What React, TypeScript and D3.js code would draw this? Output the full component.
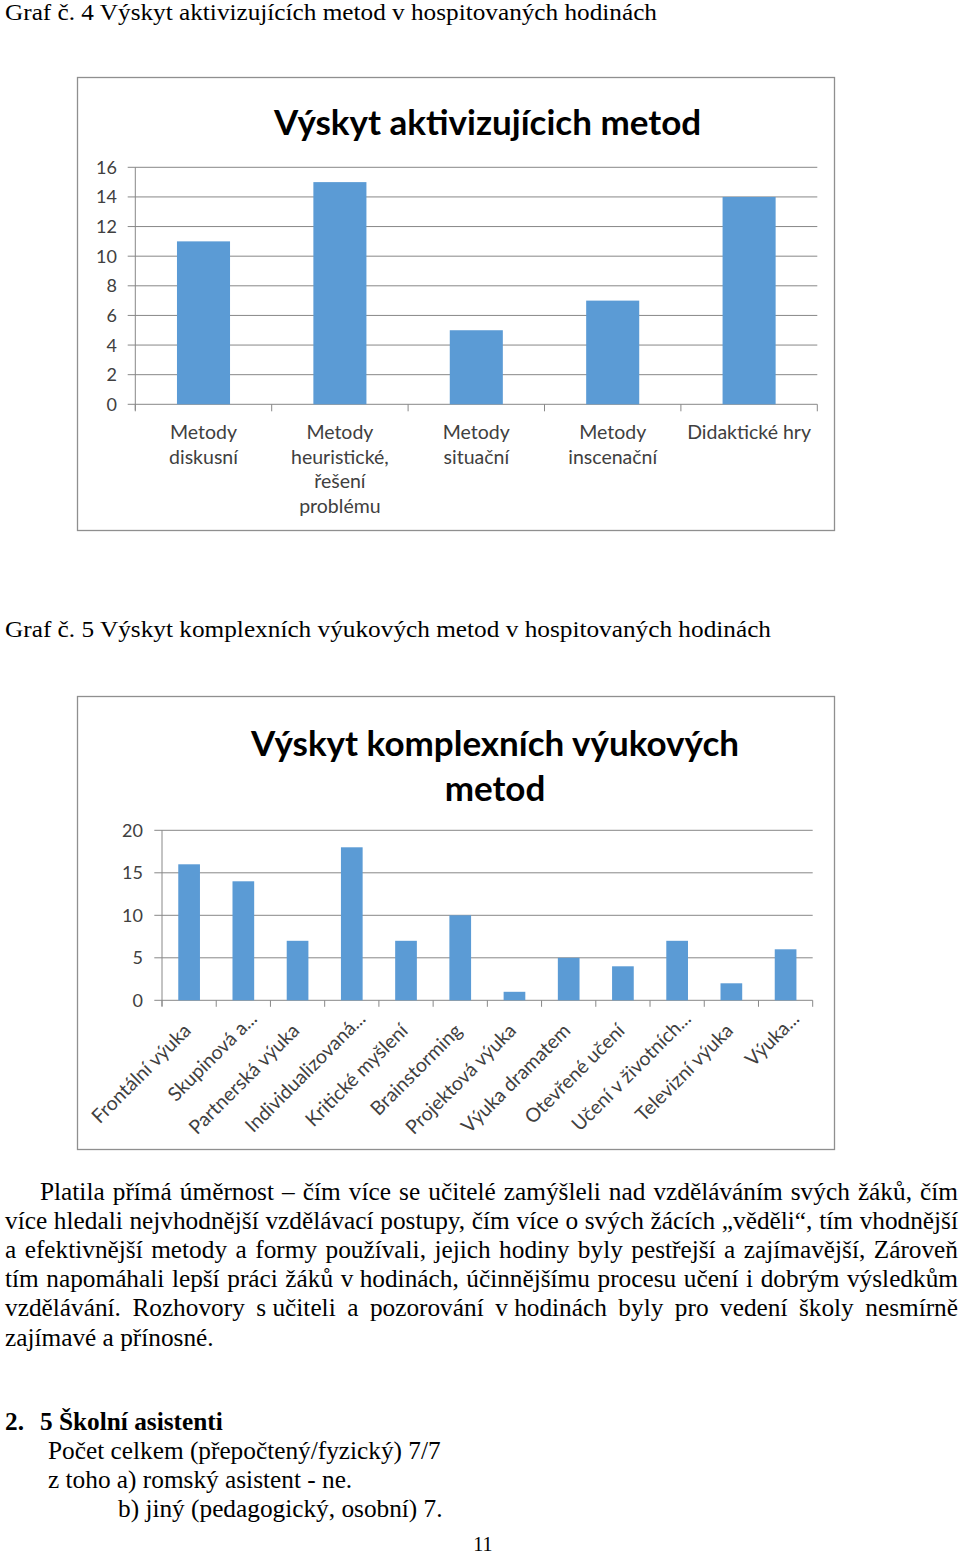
import React from "react";
import * as d3 from "d3";

// ---------- DATA ----------
const chart1Title = "Výskyt aktivizujícich metod";
const chart1Categories: string[][] = [
  ["Metody", "diskusní"],
  ["Metody", "heuristické,", "řešení", "problému"],
  ["Metody", "situační"],
  ["Metody", "inscenační"],
  ["Didaktické hry"],
];
const chart1Values = [11, 15, 5, 7, 14];
const chart1Ticks = [0, 2, 4, 6, 8, 10, 12, 14, 16];

const chart2TitleLines = ["Výskyt komplexních výukových", "metod"];
const chart2Categories = [
  "Frontální výuka",
  "Skupinová a...",
  "Partnerská výuka",
  "Individualizovaná...",
  "Kritické myšlení",
  "Brainstorming",
  "Projektová výuka",
  "Výuka dramatem",
  "Otevřené učení",
  "Učení v životních...",
  "Televizní výuka",
  "Výuka...",
];
const chart2Values = [16, 14, 7, 18, 7, 10, 1, 5, 4, 7, 2, 6];
const chart2Ticks = [0, 5, 10, 15, 20];

const caption1 = "Graf č. 4 Výskyt aktivizujících metod v hospitovaných hodinách";
const caption2 = "Graf č. 5 Výskyt komplexních výukových metod v hospitovaných hodinách";

const paragraphLines = [
  "Platila přímá úměrnost – čím více se učitelé zamýšleli nad vzděláváním svých žáků, čím",
  "více hledali nejvhodnější vzdělávací postupy, čím více o svých žácích „věděli“, tím vhodnější",
  "a efektivnější metody a formy používali, jejich hodiny byly pestřejší a zajímavější, Zároveň",
  "tím napomáhali lepší práci žáků v\u00a0hodinách, účinnějšímu procesu učení i dobrým výsledkům",
  "vzdělávání. Rozhovory s\u00a0učiteli a pozorování v\u00a0hodinách byly pro vedení školy nesmírně",
  "zajímavé a přínosné.",
];

const sectionNumber = "2.";
const sectionTitle = "5 Školní asistenti";
const sectionLines = [
  "Počet celkem (přepočtený/fyzický) 7/7",
  "z toho a) romský asistent - ne.",
  "b) jiný (pedagogický, osobní) 7.",
];
const pageNumber = "11";

// ---------- STYLE ----------
const BAR = "#5b9bd5";
const GRID = "#888888";
const AXIS_TEXT = "#404040";
const SANS = "Lato, 'Open Sans', sans-serif";
const SERIF = "'Liberation Serif', 'Times New Roman', serif";
const SERIF_SIZE = 25.3;

let _ctx: CanvasRenderingContext2D | null = null;
function measure(text: string, font: string): number {
  if (!_ctx) _ctx = document.createElement("canvas").getContext("2d");
  if (!_ctx) return text.length * 10;
  _ctx.font = font;
  return _ctx.measureText(text).width;
}

function JustifiedLine({ text, x0, x1, y, size, justify }: any) {
  const font = `${size}px 'Liberation Serif'`;
  const words = text.split(" ");
  const widths = words.map((w: string) => measure(w, font));
  const total = widths.reduce((a: number, b: number) => a + b, 0);
  const spaceW = measure(" ", font);
  let gap = justify && words.length > 1 ? (x1 - x0 - total) / (words.length - 1) : spaceW;
  let scale = 1;
  if (gap < 3) {
    gap = 3;
    scale = (x1 - x0 - gap * (words.length - 1)) / total;
  }
  let cx = x0;
  return (
    <g>
      {words.map((w: string, i: number) => {
        const el = (
          <text
            key={i}
            x={cx}
            y={y}
            fontFamily={SERIF}
            fontSize={size}
            fill="#000"
            textLength={scale !== 1 ? widths[i] * scale : undefined}
            lengthAdjust="spacingAndGlyphs"
          >
            {w}
          </text>
        );
        cx += widths[i] * scale + gap;
        return el;
      })}
    </g>
  );
}

function Chart1() {
  const y = d3.scaleLinear().domain([0, 16]).range([404.3, 167.3]);
  const r0 = 135.3;
  const x = d3
    .scaleBand<number>()
    .domain(d3.range(chart1Values.length))
    .range([r0, 817.3])
    .paddingInner(0.611)
    .paddingOuter(0.3055);
  const step = x.step();
  const gridLeft = 127.7;
  const gridRight = 817.3;
  return (
    <g>
      <rect x={77.5} y={77.5} width={757} height={453} fill="#fff" stroke="#8f8f8f" strokeWidth={1.3} />
      <text x={487.5} y={135} textAnchor="middle" fontFamily={SANS} fontWeight={700} fontSize={35} fill="#000">
        {chart1Title}
      </text>
      {chart1Ticks.map((t) => (
        <g key={t}>
          <line x1={gridLeft} x2={gridRight} y1={y(t)} y2={y(t)} stroke={GRID} strokeWidth={1} />
          <text x={117} y={y(t)} dy="0.36em" textAnchor="end" fontFamily={SANS} fontSize={18} fill={AXIS_TEXT}>
            {t}
          </text>
        </g>
      ))}
      <line x1={r0} x2={r0} y1={y(16)} y2={y(0) + 6} stroke={GRID} strokeWidth={1} />
      {d3.range(chart1Values.length + 1).map((i) => (
        <line key={i} x1={r0 + i * step} x2={r0 + i * step} y1={y(0)} y2={y(0) + 7} stroke={GRID} strokeWidth={1} />
      ))}
      {chart1Values.map((v, i) => (
        <rect key={i} x={x(i)} y={y(v)} width={x.bandwidth()} height={y(0) - y(v)} fill={BAR} />
      ))}
      {chart1Categories.map((lines, i) => (
        <text key={i} textAnchor="middle" fontFamily={SANS} fontSize={19.5} fill={AXIS_TEXT}>
          {lines.map((l, j) => (
            <tspan key={j} x={(x(i) as number) + x.bandwidth() / 2} y={439 + j * 24.5}>
              {l}
            </tspan>
          ))}
        </text>
      ))}
    </g>
  );
}

function Chart2() {
  const y = d3.scaleLinear().domain([0, 20]).range([1000.3, 830.3]);
  const r0 = 162;
  const r1 = 812.7;
  const x = d3
    .scaleBand<number>()
    .domain(d3.range(chart2Values.length))
    .range([r0, r1])
    .paddingInner(0.6)
    .paddingOuter(0.3);
  const step = x.step();
  return (
    <g>
      <rect x={77.5} y={696.5} width={757} height={453} fill="#fff" stroke="#8f8f8f" strokeWidth={1.3} />
      {chart2TitleLines.map((l, i) => (
        <text key={i} x={495} y={756 + i * 45} textAnchor="middle" fontFamily={SANS} fontWeight={700} fontSize={35} fill="#000">
          {l}
        </text>
      ))}
      {chart2Ticks.map((t) => (
        <g key={t}>
          <line x1={154.3} x2={r1} y1={y(t)} y2={y(t)} stroke={GRID} strokeWidth={1} />
          <text x={143} y={y(t)} dy="0.36em" textAnchor="end" fontFamily={SANS} fontSize={18} fill={AXIS_TEXT}>
            {t}
          </text>
        </g>
      ))}
      <line x1={r0} x2={r0} y1={y(20)} y2={y(0) + 6} stroke={GRID} strokeWidth={1} />
      {d3.range(chart2Values.length + 1).map((i) => (
        <line key={i} x1={r0 + i * step} x2={r0 + i * step} y1={y(0)} y2={y(0) + 6.5} stroke={GRID} strokeWidth={1} />
      ))}
      {chart2Values.map((v, i) => (
        <rect key={i} x={x(i)} y={y(v)} width={x.bandwidth()} height={y(0) - y(v)} fill={BAR} />
      ))}
      {chart2Categories.map((c, i) => {
        const cx = (x(i) as number) + x.bandwidth() / 2;
        const s = c.endsWith("...") ? 12 : 0;
        return (
          <text
            key={i}
            transform={`translate(${cx + 3 + s},${1032 - s}) rotate(-45)`}
            textAnchor="end"
            fontFamily={SANS}
            fontSize={19.5}
            fill={AXIS_TEXT}
          >
            {c}
          </text>
        );
      })}
    </g>
  );
}

export default function App() {
  const paraY0 = 1200;
  const paraStep = 29.1;
  return (
    <svg
      width={960}
      height={1555}
      viewBox="0 0 960 1555"
      style={{ position: "absolute", left: 0, top: 0, display: "block", background: "#fff" }}
    >
      <rect x={0} y={0} width={960} height={1555} fill="#fff" />
      <text x={5} y={20} fontFamily={SERIF} fontSize={24} textLength={652} lengthAdjust="spacingAndGlyphs">
        {caption1}
      </text>
      <Chart1 />
      <text x={5} y={637} fontFamily={SERIF} fontSize={24} textLength={766} lengthAdjust="spacingAndGlyphs">
        {caption2}
      </text>
      <Chart2 />
      {paragraphLines.map((l, i) => (
        <JustifiedLine
          key={i}
          text={l}
          x0={i === 0 ? 40 : 5}
          x1={958}
          y={paraY0 + i * paraStep}
          size={SERIF_SIZE}
          justify={i < paragraphLines.length - 1}
        />
      ))}
      <text x={5} y={1430} fontFamily={SERIF} fontWeight={700} fontSize={SERIF_SIZE}>
        {sectionNumber}
      </text>
      <text x={40} y={1430} fontFamily={SERIF} fontWeight={700} fontSize={SERIF_SIZE}>
        {sectionTitle}
      </text>
      <text x={48} y={1459} fontFamily={SERIF} fontSize={SERIF_SIZE}>
        {sectionLines[0]}
      </text>
      <text x={48} y={1488} fontFamily={SERIF} fontSize={SERIF_SIZE}>
        {sectionLines[1]}
      </text>
      <text x={118} y={1517} fontFamily={SERIF} fontSize={SERIF_SIZE}>
        {sectionLines[2]}
      </text>
      <text x={483} y={1551} textAnchor="middle" fontFamily={SERIF} fontSize={20}>
        {pageNumber}
      </text>
    </svg>
  );
}
